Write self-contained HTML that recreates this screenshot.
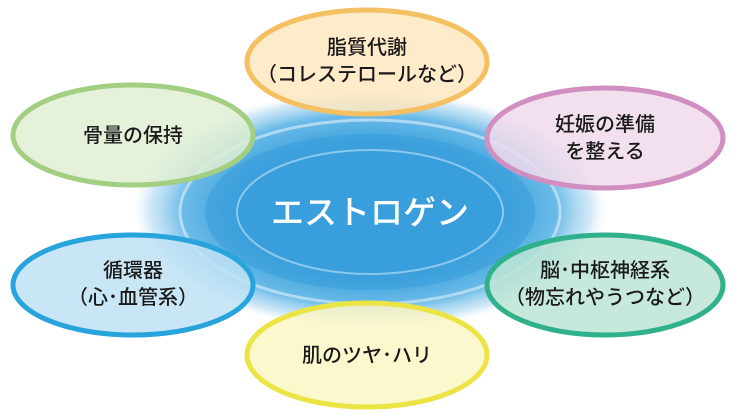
<!DOCTYPE html>
<html><head><meta charset="utf-8"><style>
html,body{margin:0;padding:0;background:#fff}
svg{display:block}
text{font-family:"Liberation Sans","Noto Sans CJK JP",sans-serif;fill:#1a1a1a;text-anchor:middle;font-weight:500}
</style></head><body>
<svg width="740" height="420" viewBox="0 0 740 420" xmlns="http://www.w3.org/2000/svg">
<defs>
<radialGradient id="glow" cx="0.5" cy="0.5" r="0.5">
<stop offset="0" stop-color="#3a9fdc"/>
<stop offset="0.55" stop-color="#3da2de"/>
<stop offset="0.78" stop-color="#6cbbe8"/>
<stop offset="0.92" stop-color="#bfe0f4" stop-opacity="0.7"/>
<stop offset="1" stop-color="#ffffff" stop-opacity="0"/>
</radialGradient>
</defs>
<ellipse cx="370" cy="210" rx="240" ry="122" fill="url(#glow)"/>
<ellipse cx="370" cy="212" rx="190" ry="92" fill="none" stroke="#cfe8f7" stroke-width="3" opacity="0.7"/>
<ellipse cx="370" cy="212" rx="165" ry="78" fill="#3a9edb" opacity="0.6"/>
<ellipse cx="370" cy="212" rx="133" ry="62" fill="#389fdc" stroke="#8cc8ee" stroke-width="2"/>
<text x="370" y="224" font-size="33" style="fill:#fff">エストロゲン</text>

<ellipse cx="367" cy="62" rx="120" ry="52" fill="#fde7c0" fill-opacity="0.85" stroke="#f5c061" stroke-width="5"/>
<text x="367" y="54" font-size="20">脂質代謝</text>
<text x="367" y="81" font-size="20">（コレステロールなど）</text>

<ellipse cx="133" cy="135" rx="120" ry="50" fill="#e0efd2" fill-opacity="0.85" stroke="#a2cf82" stroke-width="5"/>
<text x="133" y="142" font-size="20">骨量の保持</text>

<ellipse cx="605" cy="138" rx="118" ry="50" fill="#f0dbeb" fill-opacity="0.85" stroke="#d18fc1" stroke-width="5"/>
<text x="605" y="131" font-size="20">妊娠の準備</text>
<text x="605" y="158" font-size="20">を整える</text>

<ellipse cx="133" cy="285" rx="120" ry="50" fill="#bfe2f5" fill-opacity="0.85" stroke="#27a4dc" stroke-width="5"/>
<text x="133" y="277" font-size="20">循環器</text>
<text x="133" y="304" font-size="20">（心･血管系）</text>

<ellipse cx="605" cy="285" rx="118" ry="50" fill="#bde5d5" fill-opacity="0.85" stroke="#2fb18b" stroke-width="5"/>
<text x="605" y="277" font-size="20">脳･中枢神経系</text>
<text x="605" y="304" font-size="20">（物忘れやうつなど）</text>

<ellipse cx="367" cy="355" rx="120" ry="52" fill="#fbf7c6" fill-opacity="0.85" stroke="#ece445" stroke-width="5"/>
<text x="367" y="362" font-size="20">肌のツヤ･ハリ</text>
</svg>
</body></html>
